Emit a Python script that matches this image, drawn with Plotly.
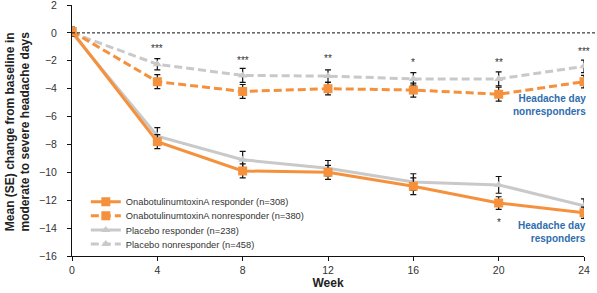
import plotly.graph_objects as go

weeks = [0, 4, 8, 12, 16, 20, 24]

ona_resp = [0.1, -7.8, -9.9, -10.0, -11.0, -12.2, -12.9]
ona_resp_se = [0.3, 0.5, 0.5, 0.5, 0.6, 0.45, 0.4]
ona_nonresp = [0.1, -3.5, -4.2, -4.0, -4.1, -4.4, -3.5]
ona_nonresp_se = [0.3, 0.5, 0.5, 0.45, 0.5, 0.5, 0.45]
pbo_resp = [0.0, -7.4, -9.1, -9.7, -10.7, -10.9, -12.4]
pbo_resp_se = [0.2, 0.6, 0.6, 0.55, 0.6, 0.6, 0.5]
pbo_nonresp = [0.0, -2.25, -3.05, -3.1, -3.3, -3.3, -2.4]
pbo_nonresp_se = [0.2, 0.4, 0.5, 0.45, 0.45, 0.5, 0.45]

names = [
    "OnabotulinumtoxinA responder (n=308)",
    "OnabotulinumtoxinA nonresponder (n=380)",
    "Placebo responder (n=238)",
    "Placebo nonresponder (n=458)",
]

sig_weeks = [4, 8, 12, 16, 20, 24]
sig_labels = ["***", "***", "**", "*", "**", "***"]
sig_y = [-1.15, -2.0, -1.85, -2.15, -2.1, -1.35]
sig2_week = [20]
sig2_label = ["*"]
sig2_y = [-13.6]

group_labels = ["<b>Headache day<br>nonresponders</b>", "<b>Headache day<br>responders</b>"]
group_label_y = [-5.2, -14.3]

ORANGE = "#F5913C"
GRAY = "#C9C9C9"
BLUE = "#2F6DAE"

fig = go.Figure()

def add(y, se, name, color, dash, symbol, msize, legend):
    fig.add_trace(go.Scatter(
        x=weeks, y=y, name=name, mode="lines+markers", legend=legend,
        line=dict(color=color, width=3, dash=dash),
        marker=dict(symbol=symbol, size=msize, color=color),
        error_y=dict(type="data", array=se, visible=True, color="#111111",
                     thickness=1.2, width=3),
    ))

add(pbo_resp, pbo_resp_se, names[2], GRAY, "solid", "triangle-up", 8, "legend3")
add(pbo_nonresp, pbo_nonresp_se, names[3], GRAY, "8px,4px", "triangle-up", 8, "legend4")
add(ona_resp, ona_resp_se, names[0], ORANGE, "solid", "square", 9, "legend")
add(ona_nonresp, ona_nonresp_se, names[1], ORANGE, "8px,4px", "square", 9, "legend2")

fig.add_shape(type="line", xref="paper", yref="y", x0=0, x1=1.03, y0=0, y1=0,
              line=dict(color="#111111", width=1, dash="3px,2px"))

for w, lab, yy in zip(sig_weeks, sig_labels, sig_y):
    fig.add_annotation(x=w, y=yy, text=lab, showarrow=False,
                       font=dict(size=10, color="#333333"))
for w, lab, yy in zip(sig2_week, sig2_label, sig2_y):
    fig.add_annotation(x=w, y=yy, text=lab, showarrow=False,
                       font=dict(size=10, color="#333333"))

for lab, yy in zip(group_labels, group_label_y):
    fig.add_annotation(xref="paper", x=1.008, y=yy, xanchor="right", text=lab,
                       showarrow=False, align="right", font=dict(size=10, color=BLUE))

fig.add_annotation(xref="paper", yref="paper", x=-0.1064, y=0.494, xanchor="center", yanchor="middle",
                   text="<b>Mean (SE) change from baseline in<br>moderate to severe headache days</b>",
                   textangle=-90, showarrow=False, font=dict(size=12, color="#222222"))

leg_common = dict(x=0.027, xanchor="left", yanchor="middle",
                  bgcolor="rgba(0,0,0,0)", font=dict(size=9.3, color="#333333"))

fig.update_layout(
    width=597, height=293,
    margin=dict(l=72, r=13, t=5, b=37, autoexpand=False),
    paper_bgcolor="white", plot_bgcolor="white",
    font=dict(family="Liberation Sans, Arial, sans-serif", color="#333333"),
    legend=dict(y=0.2163, **leg_common),
    legend2=dict(y=0.1606, **leg_common),
    legend3=dict(y=0.1036, **leg_common),
    legend4=dict(y=0.0478, **leg_common),
    xaxis=dict(range=[0, 24], tickvals=[0, 4, 8, 12, 16, 20, 24], showgrid=False,
               zeroline=False, showline=True, linecolor="#111111", linewidth=1,
               ticks="outside", ticklen=4, tickcolor="#111111", automargin=False,
               tickfont=dict(size=10.5, color="#333333"),
               title=dict(text="<b>Week</b>", font=dict(size=12, color="#222222"), standoff=4)),
    yaxis=dict(range=[-16, 2], tickvals=list(range(-16, 3, 2)), showgrid=False,
               zeroline=False, showline=True, linecolor="#111111", linewidth=1,
               ticks="outside", ticklen=4, tickcolor="#111111", ticklabelstandoff=8,
               ticklabeloverflow="allow", automargin=False,
               tickfont=dict(size=10.5, color="#333333")),
    showlegend=True,
)

fig.write_html("out.html", config={"displayModeBar": False},
               post_script="document.body.style.margin='0px';")
